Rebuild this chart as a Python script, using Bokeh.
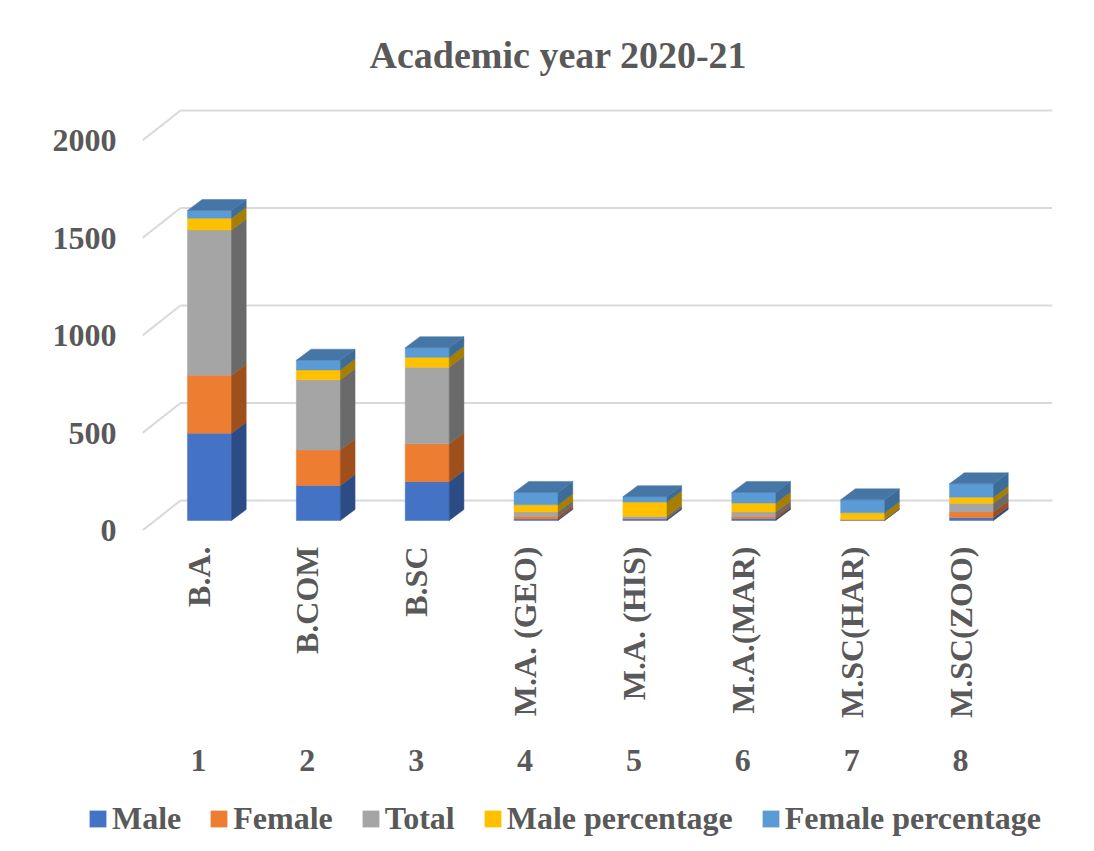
import math
from bokeh.plotting import figure
from bokeh.models import (Range1d, LinearAxis, FixedTicker, Legend, LegendItem)
from bokeh.embed import file_html
from bokeh.resources import INLINE

# ---------------- data ----------------
categories = ["B.A.", "B.COM", "B.SC", "M.A. (GEO)", "M.A. (HIS)",
              "M.A.(MAR)", "M.SC(HAR)", "M.SC(ZOO)"]
groups = ["1", "2", "3", "4", "5", "6", "7", "8"]
male = [448, 180, 199, 8, 8, 10, 1, 14]
female = [297, 181, 194, 14, 3, 12, 2, 30]
total = [745, 361, 393, 22, 11, 22, 3, 44]
male_pct = [60.1, 49.9, 50.6, 36.4, 72.7, 45.5, 33.3, 31.8]
female_pct = [39.9, 50.1, 49.4, 63.6, 27.3, 54.5, 66.7, 68.2]
series_names = ["Male", "Female", "Total", "Male percentage", "Female percentage"]
y_ticks = [0, 500, 1000, 1500, 2000]

# ---------------- style ----------------
front_colors = ["#4472C4", "#ED7D31", "#A5A5A5", "#FFC000", "#5B9BD5"]
side_colors = ["#2C4C86", "#9E4F1C", "#6A6A6A", "#A67E00", "#3D6C99"]
top_color = "#4676A6"
grid_color = "#D9D9D9"
text_color = "#595959"
FONT = "Liberation Serif"

W, H1, H2 = 1094, 790, 61
BL, BR, BT, BB = 142, 42, 100, 260          # frame borders (px)
frame_w = W - BL - BR
frame_h = H1 - BT - BB
PXC = 108.86          # px per category
PXU = 0.195           # px per value unit
BAR_LIFT = 10         # px, bar floor above front edge
BACK_LIFT = 30        # px, back wall above front edge
BACK_SHIFT = 38       # px, back wall right of front edge
BAR_W = 44            # px
DX, DY = 14.7, 11     # px, bar depth

x0 = 1 - 67 / PXC
xr = Range1d(x0, x0 + frame_w / PXC)
yr = Range1d(-BAR_LIFT / PXU, (frame_h - BAR_LIFT) / PXU)

p = figure(width=W, height=H1, output_backend="svg", toolbar_location=None,
           x_range=xr, y_range=yr, x_axis_location=None, y_axis_location=None,
           min_border_left=BL, min_border_right=BR, min_border_top=BT,
           min_border_bottom=BB, title="Academic year 2020-21")
p.outline_line_color = None
p.background_fill_color = "white"
p.border_fill_color = "white"
p.xgrid.grid_line_color = None
p.ygrid.grid_line_color = None

p.title.text_font = FONT
p.title.text_font_size = "38px"
p.title.text_font_style = "bold"
p.title.text_color = text_color
p.title.align = "left"
p.title.offset = 227
p.title.standoff = 50

# ---------------- axes ----------------
p.extra_y_ranges = {"yax": Range1d(0, frame_h / PXU)}
lx0 = 1 - 56 / PXC
p.extra_x_ranges = {"lab": Range1d(lx0, lx0 + frame_w / PXC)}

def style_axis(ax):
    ax.axis_line_color = None
    ax.major_tick_line_color = None
    ax.minor_tick_line_color = None
    ax.major_tick_in = 0
    ax.major_tick_out = 0
    ax.major_label_text_font = FONT
    ax.major_label_text_font_size = "32px"
    ax.major_label_text_font_style = "bold"
    ax.major_label_text_color = text_color

yax = LinearAxis(y_range_name="yax", ticker=FixedTicker(ticks=y_ticks))
style_axis(yax)
yax.major_label_standoff = 26
p.add_layout(yax, "left")

positions = list(range(1, len(categories) + 1))
xax1 = LinearAxis(x_range_name="lab", ticker=FixedTicker(ticks=positions),
                  major_label_overrides={pos: c for pos, c in zip(positions, categories)},
                  major_label_orientation=math.pi / 2)
style_axis(xax1)
xax1.major_label_standoff = 16
p.add_layout(xax1, "below")

xax2 = LinearAxis(x_range_name="lab", ticker=FixedTicker(ticks=positions),
                  major_label_overrides={pos: g for pos, g in zip(positions, groups)})
style_axis(xax2)
xax2.major_label_standoff = 28
p.add_layout(xax2, "below")

# ---------------- 3D floor / wall gridlines ----------------
xb = x0 + BACK_SHIFT / PXC
xe = xr.end
back_off = (BACK_LIFT - BAR_LIFT) / PXU
front_off = -BAR_LIFT / PXU
p.segment(x0=[xb] * len(y_ticks), x1=[xe] * len(y_ticks),
          y0=[v + back_off for v in y_ticks], y1=[v + back_off for v in y_ticks],
          line_color=grid_color, line_width=2)
p.segment(x0=[x0] * len(y_ticks), x1=[xb] * len(y_ticks),
          y0=[v + front_off for v in y_ticks], y1=[v + back_off for v in y_ticks],
          line_color=grid_color, line_width=2)

# ---------------- stacked 3D bars ----------------
series = [male, female, total, male_pct, female_pct]
bw = BAR_W / PXC
dx = DX / PXC
dy = DY / PXU
bottoms = [0.0] * len(categories)
for vals, fc, sc in zip(series, front_colors, side_colors):
    tops = [b + v for b, v in zip(bottoms, vals)]
    p.vbar(x=positions, bottom=bottoms, top=tops, width=bw,
           fill_color=fc, line_color=fc, line_width=0.5)
    xs, ys = [], []
    for pos, b, t in zip(positions, bottoms, tops):
        xr_ = pos + bw / 2
        xs.append([xr_, xr_ + dx, xr_ + dx, xr_])
        ys.append([b, b + dy, t + dy, t])
    p.patches(xs, ys, fill_color=sc, line_color=sc, line_width=0.5)
    bottoms = tops

txs, tys = [], []
for pos, t in zip(positions, bottoms):
    txs.append([pos - bw / 2, pos - bw / 2 + dx, pos + bw / 2 + dx, pos + bw / 2])
    tys.append([t, t + dy, t + dy, t])
p.patches(txs, tys, fill_color=top_color, line_color=top_color, line_width=0.5)

# ---------------- legend strip (separate root, no frame alignment) ----------------
pl = figure(width=W, height=H2, output_backend="svg", toolbar_location=None,
            x_range=Range1d(0, 1), y_range=Range1d(0, 1),
            x_axis_location=None, y_axis_location=None,
            min_border_left=0, min_border_right=0, min_border_top=0,
            min_border_bottom=0)
pl.outline_line_color = None
pl.xgrid.grid_line_color = None
pl.ygrid.grid_line_color = None
items = []
for name, fc in zip(series_names, front_colors):
    # zero-height proxy bar: only supplies the legend swatch colour
    r = pl.vbar(x=[0], bottom=[0], top=[0], width=0, fill_color=fc, line_color=None)
    items.append(LegendItem(label=name, renderers=[r]))
legend = Legend(items=items, orientation="horizontal",
                location=(87, 14), margin=0, padding=0, spacing=27,
                label_standoff=4, glyph_width=21, glyph_height=21,
                label_text_font=FONT, label_text_font_size="32px",
                label_text_font_style="bold", label_text_color=text_color,
                border_line_color=None, background_fill_alpha=0)
pl.add_layout(legend)

open("out.html", "w").write(file_html([p, pl], INLINE))
